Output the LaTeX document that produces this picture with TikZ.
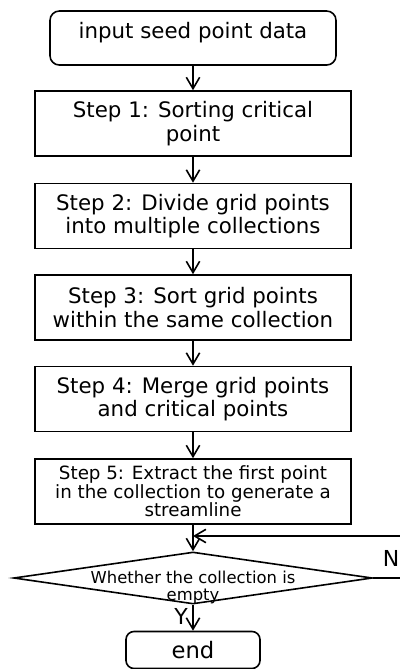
\documentclass[tikz,border=0pt]{standalone}
\usepackage{fontspec}
\setmainfont{DejaVu Sans}
\usetikzlibrary{shapes.geometric, positioning, arrows.meta}

\begin{document}
\begin{tikzpicture}[x=0.75pt, y=-0.75pt, line width=1.2pt,
    >={Straight Barb[length=8.5pt, width=10pt]},
    term/.style={draw, rounded corners=7pt, align=center},
    stepbox/.style={draw, minimum width=237pt, minimum height=48.75pt, align=center,
        font=\fontsize{16}{17.5}\selectfont},
    decision/.style={draw, diamond, minimum width=269pt, minimum height=39pt, inner sep=0pt}]
    \useasboundingbox (0,0) rectangle (400,669);
    \node[term, minimum width=214.5pt, minimum height=40.5pt, text depth=12pt, font=\fontsize{16}{17.5}\selectfont] (start) at (193,38) {input seed point data};
    \node[stepbox] (s1) at (193,123.5) {Step 1: Sorting critical\\point};
    \node[stepbox] (s2) at (193,216) {Step 2: Divide grid points\\into multiple collections};
    \node[stepbox] (s3) at (193,307.5) {Step 3: Sort grid points\\within the same collection};
    \node[stepbox] (s4) at (193,399) {Step 4: Merge grid points\\and critical points};
    \node[stepbox, font=\fontsize{13.7}{13.8}\selectfont] (s5) at (193,491.5) {Step 5: Extract the first point\\in the collection to generate a\\streamline};
    \node[decision] (dec) at (193,578) {};
    \node[align=center, inner sep=0pt, yshift=-7pt, font=\fontsize{12.3}{13.3}\selectfont] (dectext) at (dec.center) {Whether the collection is\\empty};
    \node[term, minimum width=100.5pt, minimum height=27.75pt, rounded corners=6pt, font=\fontsize{17}{18}\selectfont] (end) at (193,650) {end};
    \coordinate (join) at (193,536);

    \draw[->] (start) -- (s1);
    \draw[->] (s1) -- (s2);
    \draw[->] (s2) -- (s3);
    \draw[->] (s3) -- (s4);
    \draw[->] (s4) -- (s5);
    \draw[->] (s5) -- (dec);
    \draw[->] (dec) -- node[left, yshift=1pt, font=\fontsize{16.5}{17}\selectfont]{Y} (end);
    \draw[->] (dec.east) -- node[above, xshift=-1.5pt, yshift=5pt, font=\fontsize{16.5}{17}\selectfont]{N} ++(40,0) |- (join);
\end{tikzpicture}
\end{document}
